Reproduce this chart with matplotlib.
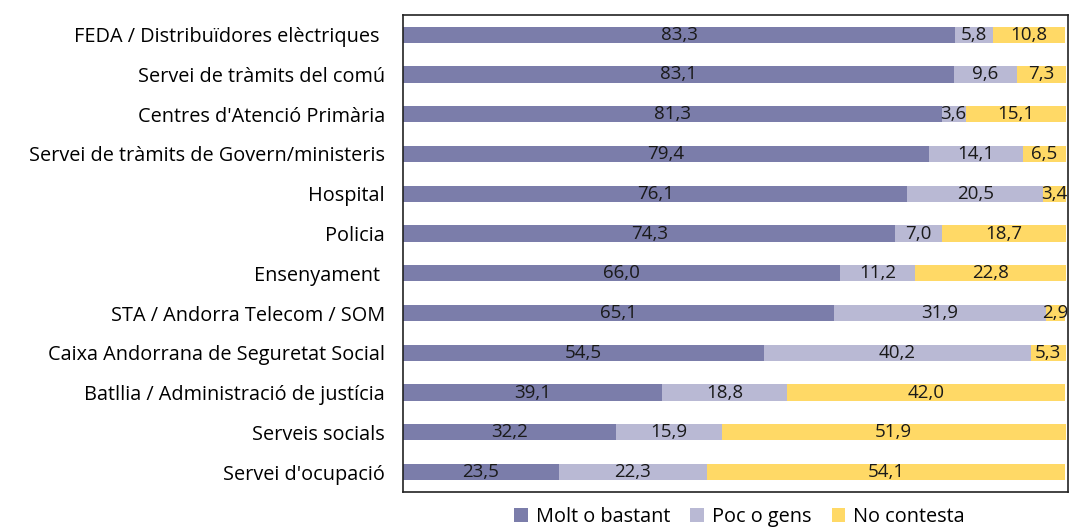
import matplotlib
matplotlib.use("Agg")
import matplotlib.pyplot as plt
import numpy as np

categories = [
    "FEDA / Distribuïdores elèctriques ",
    "Servei de tràmits del comú",
    "Centres d'Atenció Primària",
    "Servei de tràmits de Govern/ministeris",
    "Hospital",
    "Policia",
    "Ensenyament ",
    "STA / Andorra Telecom / SOM",
    "Caixa Andorrana de Seguretat Social",
    "Batllia / Administració de justícia",
    "Serveis socials",
    "Servei d'ocupació",
]
molt_bastant = [83.3, 83.1, 81.3, 79.4, 76.1, 74.3, 66.0, 65.1, 54.5, 39.1, 32.2, 23.5]
poc_gens = [5.8, 9.6, 3.6, 14.1, 20.5, 7.0, 11.2, 31.9, 40.2, 18.8, 15.9, 22.3]
no_contesta = [10.8, 7.3, 15.1, 6.5, 3.4, 18.7, 22.8, 2.9, 5.3, 42.0, 51.9, 54.1]
series_names = ["Molt o bastant", "Poc o gens", "No contesta"]
colors = ["#7B7DAA", "#B9B9D4", "#FFD966"]

plt.rcParams["font.family"] = ["Open Sans", "DejaVu Sans"]

fig = plt.figure(figsize=(10.72, 5.29), dpi=100)
ax = fig.add_axes([0.376, 0.070, 0.620, 0.902])

y = np.arange(len(categories))
left = np.zeros(len(categories))
for vals, name, col in zip([molt_bastant, poc_gens, no_contesta], series_names, colors):
    vals = np.array(vals)
    ax.barh(y, vals, left=left, height=0.41, color=col, label=name)
    for yi, l, v in zip(y, left, vals):
        ax.text(l + v / 2, yi, f"{v:.1f}".replace(".", ","), ha="center", va="center",
                fontsize=13.5, color="#1a1a1a")
    left += vals

ax.set_xlim(0, 100.3)
ax.set_ylim(len(categories) - 0.5, -0.5)
ax.set_yticks(y)
ax.set_yticklabels(categories, fontsize=14.3)
ax.tick_params(axis="y", length=0, pad=13)
ax.set_xticks([])
for s in ax.spines.values():
    s.set_color("#222222")
    s.set_linewidth(1.2)

fig.legend(loc="lower center", bbox_to_anchor=(0.69, -0.03), ncol=3, frameon=False,
           fontsize=14.3, handlelength=0.7, handleheight=0.7, handletextpad=0.4,
           columnspacing=1.0)

fig.savefig("out.png", dpi=100)
